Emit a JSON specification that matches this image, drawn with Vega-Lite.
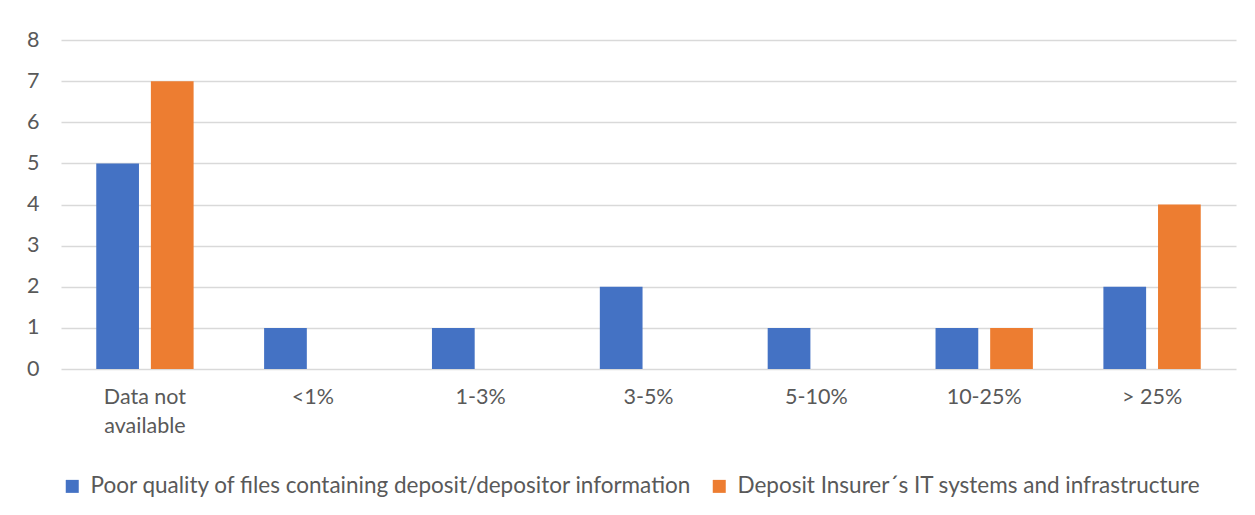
{
  "$schema": "https://vega.github.io/schema/vega-lite/v6.json",
  "width": 1175,
  "height": 329,
  "autosize": {"type": "none"},
  "padding": {"left": 61, "top": 40, "right": 19, "bottom": 146},
  "background": "white",
  "data": {
    "values": [
      {"cat": "Data not available", "series": "Poor quality of files containing deposit/depositor information", "v": 5},
      {"cat": "Data not available", "series": "Deposit Insurer´s IT systems  and infrastructure", "v": 7},
      {"cat": "<1%", "series": "Poor quality of files containing deposit/depositor information", "v": 1},
      {"cat": "<1%", "series": "Deposit Insurer´s IT systems  and infrastructure", "v": 0},
      {"cat": "1-3%", "series": "Poor quality of files containing deposit/depositor information", "v": 1},
      {"cat": "1-3%", "series": "Deposit Insurer´s IT systems  and infrastructure", "v": 0},
      {"cat": "3-5%", "series": "Poor quality of files containing deposit/depositor information", "v": 2},
      {"cat": "3-5%", "series": "Deposit Insurer´s IT systems  and infrastructure", "v": 0},
      {"cat": "5-10%", "series": "Poor quality of files containing deposit/depositor information", "v": 1},
      {"cat": "5-10%", "series": "Deposit Insurer´s IT systems  and infrastructure", "v": 0},
      {"cat": "10-25%", "series": "Poor quality of files containing deposit/depositor information", "v": 1},
      {"cat": "10-25%", "series": "Deposit Insurer´s IT systems  and infrastructure", "v": 1},
      {"cat": "> 25%", "series": "Poor quality of files containing deposit/depositor information", "v": 2},
      {"cat": "> 25%", "series": "Deposit Insurer´s IT systems  and infrastructure", "v": 4}
    ]
  },
  "mark": {"type": "bar"},
  "encoding": {
    "x": {
      "field": "cat",
      "type": "nominal",
      "sort": ["Data not available", "<1%", "1-3%", "3-5%", "5-10%", "10-25%", "> 25%"],
      "scale": {"paddingInner": 0.42, "paddingOuter": 0.21},
      "axis": {
        "title": null,
        "labelAngle": 0,
        "domain": false,
        "ticks": false,
        "labelPadding": 17,
        "labelFont": "Lato",
        "labelFontSize": 21.5,
        "labelColor": "#595959",
        "labelLineHeight": 29,
        "labelOverlap": false,
        "labelExpr": "datum.label == 'Data not available' ? ['Data not', 'available'] : datum.label"
      }
    },
    "xOffset": {
      "field": "series",
      "type": "nominal",
      "sort": ["Poor quality of files containing deposit/depositor information", "Deposit Insurer´s IT systems  and infrastructure"],
      "scale": {"paddingInner": 0.218, "paddingOuter": 0}
    },
    "y": {
      "field": "v",
      "type": "quantitative",
      "scale": {"domain": [0, 8]},
      "axis": {
        "title": null,
        "values": [0, 1, 2, 3, 4, 5, 6, 7, 8],
        "labelOverlap": false,
        "domain": false,
        "ticks": false,
        "labelPadding": 22,
        "labelFont": "Lato",
        "labelFontSize": 21.5,
        "labelColor": "#595959",
        "gridColor": "#D9D9D9",
        "gridWidth": 1.5
      }
    },
    "color": {
      "field": "series",
      "type": "nominal",
      "sort": ["Poor quality of files containing deposit/depositor information", "Deposit Insurer´s IT systems  and infrastructure"],
      "scale": {"range": ["#4472C4", "#ED7D31"]},
      "legend": {
        "title": null,
        "orient": "bottom",
        "direction": "horizontal",
        "offset": 38,
        "symbolType": "square",
        "symbolSize": 169,
        "symbolStrokeWidth": 0,
        "labelFont": "Lato",
        "labelFontSize": 22.5,
        "labelColor": "#595959",
        "labelOffset": 7,
        "columnPadding": 15,
        "labelLimit": 1000
      }
    }
  },
  "config": {"view": {"stroke": null}}
}
